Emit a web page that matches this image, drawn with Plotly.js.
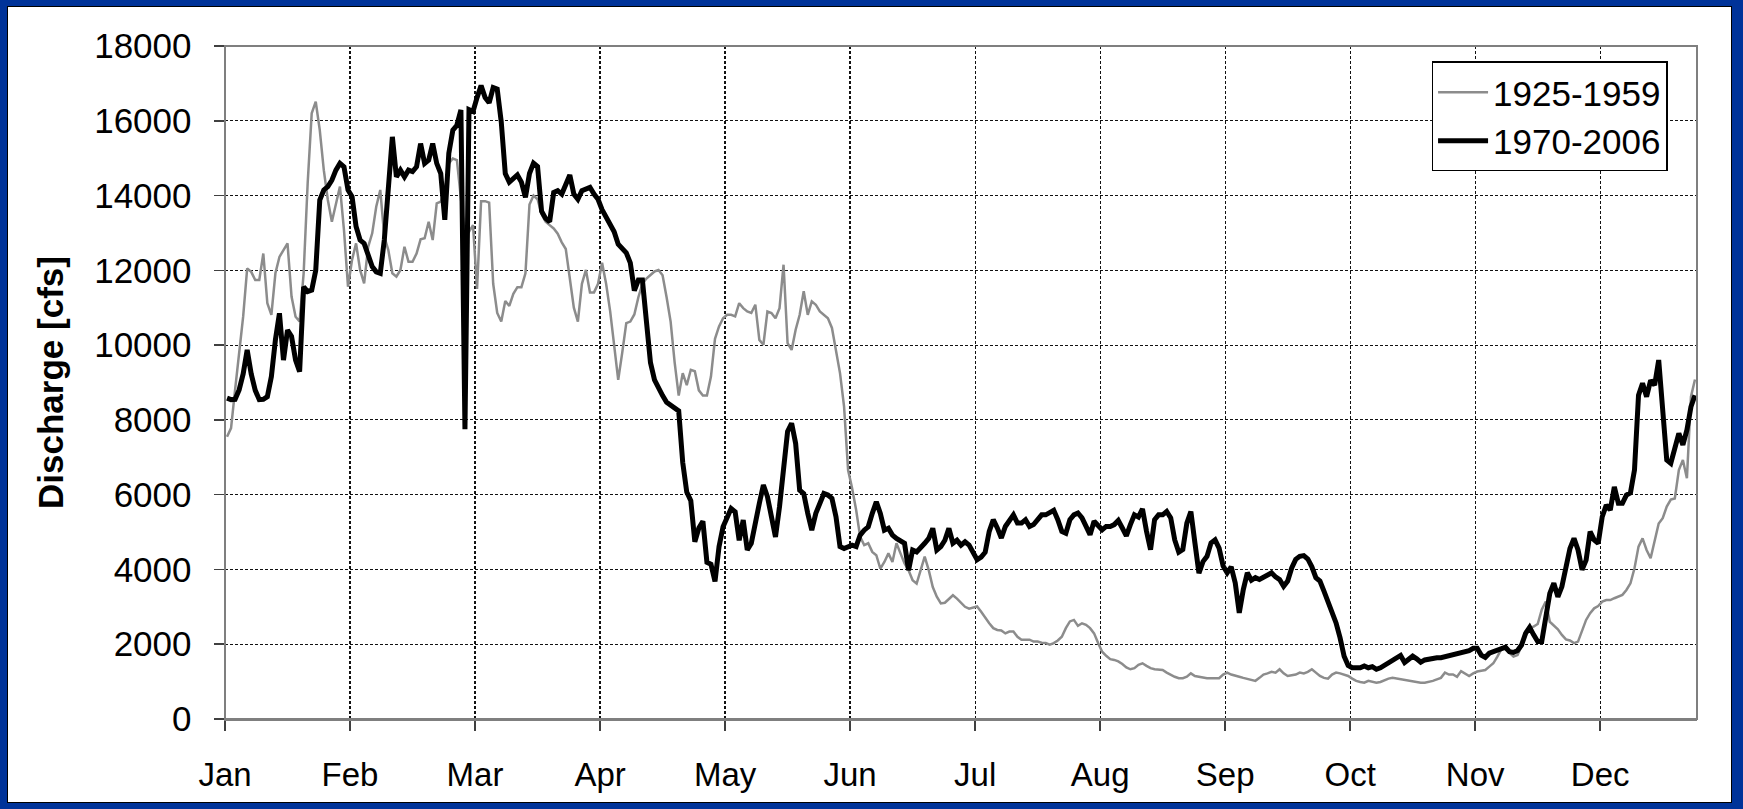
<!DOCTYPE html>
<html>
<head>
<meta charset="utf-8">
<script src="https://cdn.plot.ly/plotly-3.0.1.min.js"></script>
<style>
  html, body { margin: 0; padding: 0; }
  body { width: 1743px; height: 809px; background: #003399; position: relative; overflow: hidden; }
  #panel { position: absolute; left: 8px; top: 7px; width: 1723px; height: 795px; background: #ffffff; box-shadow: 0 0 0 1px #000; }
  #chart { position: absolute; left: 0; top: 0; width: 1743px; height: 809px; }
</style>
</head>
<body>
<div id="panel"></div>
<div id="chart"></div>
<script>
// Mean daily discharge (cfs), one value per day of the year (365 days).
const monthLabels = ['Jan', 'Feb', 'Mar', 'Apr', 'May', 'Jun', 'Jul', 'Aug', 'Sep', 'Oct', 'Nov', 'Dec'];
const seriesNames = ['1925-1959', '1970-2006'];

const flow1925_1959 = [
  7550, 7780, 8800, 9870, 10760, 12050, 11960, 11740, 11740, 12450,
  11120, 10810, 11920, 12360, 12540, 12720, 11300, 10760, 10630, 11920,
  14330, 16200, 16510, 15750, 14680, 13880, 13300, 13790, 14240, 13080,
  11560, 12280, 12720, 12010, 11650, 12630, 12990, 13700, 14150, 12900,
  12540, 11920, 11830, 12010, 12630, 12230, 12230, 12450, 12830, 12860,
  13300, 12810, 13790, 13840, 14150, 14860, 14990, 14950, 13900, 12900,
  13030, 13210, 11500, 13850, 13850, 13810, 11640, 10860, 10630, 11180,
  11050, 11370, 11550, 11550, 11920, 13760, 14000, 13900, 13500, 13300,
  13210, 13120, 12980, 12750, 12570, 11740, 11000, 10630, 11640, 12010,
  11410, 11410, 11640, 12200, 11640, 10910, 9990, 9070, 9800, 10590,
  10630, 10820, 11280, 11640, 11780, 11870, 11970, 12010, 11870, 11280,
  10630, 9530, 8650, 9250, 8930, 9340, 9300, 8790, 8650, 8650,
  9160, 10170, 10500, 10720, 10810, 10810, 10770, 11120, 10990, 10900,
  10860, 11080, 10140, 10010, 10900, 10860, 10720, 10990, 12150, 10050,
  9870, 10410, 10810, 11440, 10810, 11170, 11080, 10900, 10810, 10720,
  10460, 9870, 9250, 8360, 6660, 6170, 5590, 4870, 4650, 4700,
  4470, 4380, 4020, 4200, 4430, 4200, 4700, 4430, 4160, 3980,
  3710, 3620, 3980, 4340, 3980, 3530, 3270, 3090, 3110, 3220,
  3310, 3220, 3110, 3000, 2950, 2980, 3010, 2870, 2700, 2560,
  2430, 2380, 2370, 2290, 2340, 2340, 2200, 2120, 2120, 2120,
  2070, 2070, 2040, 2030, 1990, 2030, 2100, 2200, 2430, 2610,
  2650, 2490, 2560, 2520, 2430, 2290, 2030, 1800, 1690, 1600,
  1580, 1540, 1470, 1380, 1330, 1360, 1450, 1490, 1420, 1360,
  1330, 1310, 1310, 1240, 1180, 1130, 1090, 1090, 1130, 1220,
  1150, 1130, 1090, 1090, 1090, 1090, 1090, 1190, 1240, 1190,
  1170, 1130, 1100, 1080, 1060, 1020, 1100, 1190, 1220, 1260,
  1240, 1330, 1220, 1150, 1170, 1190, 1240, 1220, 1260, 1330,
  1240, 1150, 1100, 1080, 1190, 1240, 1220, 1180, 1150, 1080,
  1020, 990, 970, 1020, 990, 970, 990, 1040, 1080, 1100,
  1080, 1060, 1040, 1020, 990, 970, 970, 970, 990, 1020,
  1060, 1100, 1240, 1190, 1190, 1130, 1280, 1220, 1150, 1220,
  1270, 1290, 1310, 1400, 1490, 1670, 1870, 1870, 1780, 1670,
  1710, 1950, 2340, 2450, 2470, 2540, 2920, 3140, 2600, 2490,
  2400, 2250, 2130, 2100, 2030, 2070, 2380, 2650, 2830, 2960,
  3020, 3140, 3180, 3180, 3230, 3270, 3320, 3450, 3630, 4030,
  4610, 4830, 4520, 4300, 4790, 5230, 5370, 5680, 5870, 5900,
  6660, 6930, 6440, 8620, 9080
];

const flow1970_2006 = [
  8580, 8540, 8550, 8800, 9230, 9870, 9230, 8790, 8540, 8550,
  8620, 9160, 10140, 10850, 9600, 10400, 10230, 9600, 9290, 11560,
  11430, 11470, 12000, 13880, 14150, 14240, 14410, 14680, 14860, 14770,
  14150, 13970, 13170, 12810, 12720, 12360, 12100, 11960, 11920, 12810,
  14150, 15570, 14500, 14680, 14500, 14680, 14640, 14770, 15390, 14860,
  14950, 15390, 14860, 14590, 13350, 15130, 15750, 15880, 16290, 7750,
  16300, 16250, 16620, 16940, 16620, 16480, 16890, 16850, 15970, 14590,
  14360, 14450, 14550, 14360, 13950, 14590, 14870, 14780, 13580, 13390,
  13300, 14080, 14130, 14040, 14310, 14550, 14040, 13900, 14130, 14180,
  14220, 14040, 13900, 13620, 13440, 13260, 13030, 12700, 12570, 12470,
  12200, 11460, 11740, 11740, 10630, 9530, 9070, 8840, 8650, 8470,
  8380, 8310, 8240, 6860, 6070, 5840, 4740, 5110, 5290, 4190,
  4140, 3680, 4610, 5140, 5370, 5630, 5540, 4780, 5320, 4520,
  4700, 5320, 5770, 6260, 5950, 5410, 4870, 5680, 6840, 7690,
  7910, 7370, 6120, 6030, 5500, 5050, 5500, 5810, 6030, 5990,
  5900, 5410, 4610, 4560, 4610, 4650, 4610, 4920, 5050, 5140,
  5500, 5810, 5500, 5050, 5100, 4920, 4830, 4780, 4700, 3980,
  4520, 4470, 4610, 4700, 4830, 5100, 4520, 4610, 4780, 5100,
  4700, 4780, 4650, 4740, 4650, 4430, 4260, 4330, 4460, 5020,
  5330, 5110, 4840, 5150, 5330, 5460, 5240, 5240, 5330, 5150,
  5200, 5330, 5460, 5460, 5530, 5580, 5330, 5020, 4970, 5330,
  5460, 5510, 5380, 5110, 4930, 5290, 5150, 5060, 5150, 5150,
  5200, 5310, 5110, 4900, 5200, 5460, 5400, 5620, 5020, 4530,
  5330, 5460, 5460, 5550, 5380, 4790, 4460, 4530, 5240, 5550,
  4710, 3900, 4210, 4350, 4710, 4790, 4570, 4090, 3910, 4070,
  3640, 2840, 3460, 3910, 3710, 3780, 3730, 3800, 3860, 3910,
  3800, 3730, 3550, 3690, 4040, 4270, 4350, 4370, 4280, 4070,
  3780, 3690, 3420, 3150, 2840, 2570, 2170, 1680, 1430, 1370,
  1370, 1370, 1420, 1370, 1400, 1330, 1370, 1430, 1490, 1550,
  1610, 1700, 1510, 1600, 1680, 1610, 1520, 1580, 1610, 1610,
  1640, 1640, 1670, 1680, 1700, 1730, 1770, 1820, 1830, 1890,
  1890, 1710, 1650, 1760, 1800, 1830, 1890, 1920, 1800, 1780,
  1830, 1980, 2290, 2450, 2250, 2070, 2070, 2740, 3360, 3630,
  3270, 3540, 4030, 4560, 4830, 4520, 3990, 4250, 5010, 4790,
  4700, 5410, 5720, 5590, 6210, 5770, 5770, 5990, 6050, 6660,
  8660, 8980, 8620, 9060, 8930, 9600, 8260, 6930, 6840, 7190,
  7640, 7330, 7730, 8350, 8660
];

// Day-of-year axis: each day occupies one unit, labels every 31 days.
const daysInYear = 365;
const tickStep = 31;

const dayPos = flow1970_2006.map((_, i) => i + 0.5);
const tickVals = monthLabels.map((_, k) => k * tickStep);

const fontFamily = 'Liberation Sans, Arial, Helvetica, sans-serif';

const traces = [
  {
    x: dayPos, y: flow1925_1959, name: seriesNames[0],
    type: 'scatter', mode: 'lines',
    line: { color: '#8c8c8c', width: 2.5 }
  },
  {
    x: dayPos, y: flow1970_2006, name: seriesNames[1],
    type: 'scatter', mode: 'lines',
    line: { color: '#000000', width: 5 }
  }
];

const layout = {
  width: 1743, height: 809,
  margin: { l: 225, r: 46, t: 46, b: 90, pad: 0 },
  paper_bgcolor: 'rgba(0,0,0,0)',
  plot_bgcolor: '#ffffff',
  font: { family: fontFamily, color: '#000' },
  showlegend: true,
  xaxis: {
    range: [0, daysInYear],
    tickmode: 'array', tickvals: tickVals, ticktext: monthLabels,
    showgrid: true, gridcolor: '#111111', gridwidth: 1.2, griddash: '3px,2px',
    zeroline: false,
    showline: true, linecolor: '#7f7f7f', linewidth: 2,
    ticks: 'outside', ticklen: 10, tickwidth: 1.5, tickcolor: '#404040',
    ticklabelstandoff: 15,
    tickfont: { family: fontFamily, size: 33, color: '#000' },
    fixedrange: true
  },
  yaxis: {
    range: [0, 18000], dtick: 2000, tick0: 0, tickformat: 'd',
    showgrid: true, gridcolor: '#111111', gridwidth: 1.2, griddash: '3px,2px',
    zeroline: false,
    showline: true, linecolor: '#000000', linewidth: 1.5,
    ticks: 'outside', ticklen: 10, tickwidth: 1.5, tickcolor: '#404040',
    ticklabelstandoff: 15,
    tickfont: { family: fontFamily, size: 35, color: '#000' },
    title: { text: 'Discharge [cfs]', font: { family: fontFamily, size: 35, color: '#000', weight: 'bold' }, standoff: 20 },
    fixedrange: true
  },
  shapes: [
    { type: 'rect', xref: 'paper', yref: 'paper', x0: 0, x1: 1, y0: 0, y1: 1,
      line: { color: '#7f7f7f', width: 2 }, layer: 'above' }
  ],
  legend: {
    x: 0.98, y: 0.977, xanchor: 'right', yanchor: 'top',
    bgcolor: '#ffffff', bordercolor: '#000000', borderwidth: 1.5,
    font: { family: fontFamily, size: 35, color: '#000' },
    itemwidth: 50,
    tracegroupgap: 0
  }
};

Plotly.newPlot('chart', traces, layout, { displayModeBar: false, staticPlot: true });
</script>
</body>
</html>
